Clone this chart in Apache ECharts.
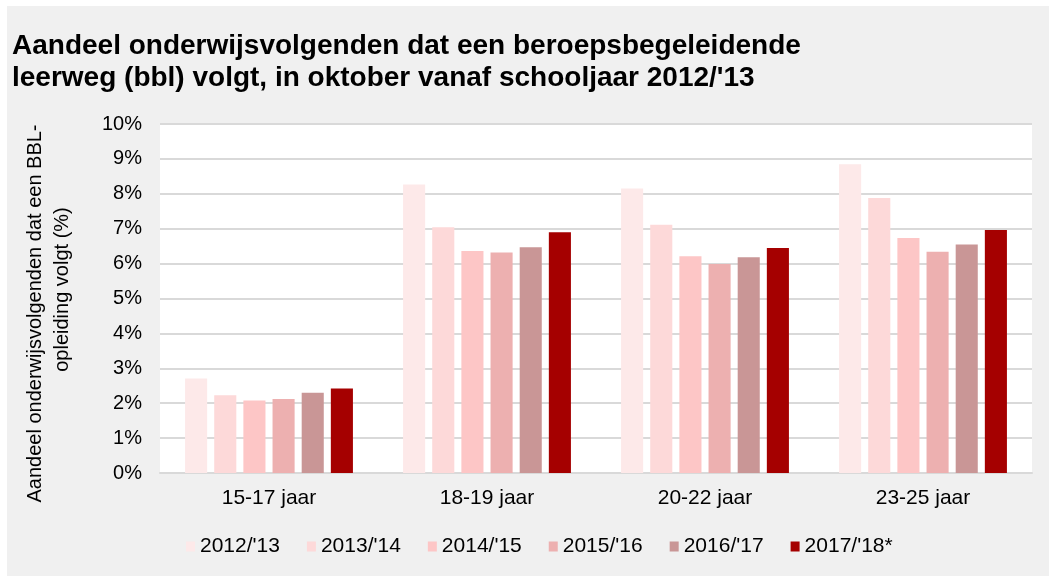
<!DOCTYPE html>
<html><head><meta charset="utf-8">
<script src="https://cdn.jsdelivr.net/npm/echarts@6/dist/echarts.min.js"></script>
<style>html,body{margin:0;padding:0;background:#fff}#c{width:1049px;height:576px}</style>
</head><body><div id="c"></div>
<script>
var categories = ['15-17 jaar', '18-19 jaar', '20-22 jaar', '23-25 jaar'];
var seriesNames = ["2012/'13", "2013/'14", "2014/'15", "2015/'16", "2016/'17", "2017/'18*"];
var v2012 = [2.71, 8.27, 8.15, 8.85];
var v2013 = [2.23, 7.04, 7.11, 7.88];
var v2014 = [2.08, 6.36, 6.21, 6.73];
var v2015 = [2.12, 6.32, 5.99, 6.34];
var v2016 = [2.30, 6.47, 6.18, 6.55];
var v2017 = [2.42, 6.90, 6.45, 6.96];
var values = [v2012, v2013, v2014, v2015, v2016, v2017];
var colors = ['#fde9e9', '#fdd9d9', '#fdc6c6', '#edb0b0', '#c99696', '#a50000'];
var FONT = "'Liberation Sans', Arial, sans-serif";

var chart = echarts.init(document.getElementById('c'));
chart.setOption({
  animation: false,
  backgroundColor: '#ffffff',
  graphic: [{type: 'rect', left: 7, top: 6, shape: {width: 1042, height: 570}, style: {fill: '#f0f0f0'}, z: -10}],
  title: {
    text: "Aandeel onderwijsvolgenden dat een beroepsbegeleidende\nleerweg (bbl) volgt, in oktober vanaf schooljaar 2012/'13",
    left: 12, top: 30, padding: 0,
    textStyle: {fontFamily: FONT, fontWeight: 'bold', fontSize: 28, lineHeight: 32, color: '#000'}
  },
  legend: {
    data: seriesNames, left: 186, top: 536, padding: 0, itemWidth: 9, itemHeight: 10, itemGap: 27,
    icon: 'rect',
    textStyle: {fontFamily: FONT, fontSize: 21, color: '#000'}
  },
  grid: {left: 160, right: 17, top: 124, bottom: 103, show: true, backgroundColor: '#ffffff', borderWidth: 0},
  xAxis: {
    type: 'category', data: categories,
    axisLine: {lineStyle: {color: '#d9d9d9', width: 2}},
    axisTick: {show: false},
    axisLabel: {fontFamily: FONT, fontSize: 21, color: '#000', margin: 15}
  },
  yAxis: {
    type: 'value', min: 0, max: 10, interval: 1,
    name: '{a|Aandeel onderwijsvolgenden dat een BBL-}\n{b|opleiding volgt (%)}',
    nameLocation: 'middle', nameGap: 84,
    nameTextStyle: {
      fontFamily: FONT, fontSize: 20, color: '#000', lineHeight: 27, align: 'center',
      rich: {
        a: {fontFamily: FONT, fontSize: 20, color: '#000', lineHeight: 27, padding: [0, 30, 0, 0]},
        b: {fontFamily: FONT, fontSize: 20, color: '#000', lineHeight: 27, padding: [0, 0, 0, 18]}
      }
    },
    axisLabel: {fontFamily: FONT, fontSize: 20, color: '#000', margin: 18, formatter: '{value}%'},
    splitLine: {lineStyle: {color: '#d9d9d9', width: 2}},
    axisLine: {show: false}, axisTick: {show: false}
  },
  series: seriesNames.map(function (n, i) {
    return {name: n, type: 'bar', data: values[i], barGap: '32%', barCategoryGap: '23%',
      itemStyle: {color: colors[i]}};
  })
});
</script></body></html>
